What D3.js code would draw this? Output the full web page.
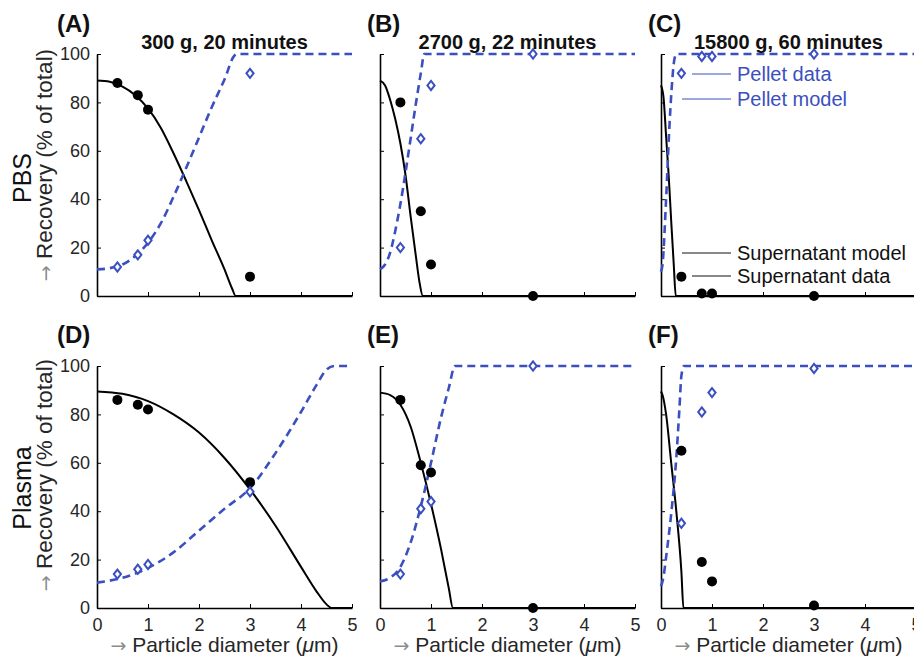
<!DOCTYPE html>
<html>
<head>
<meta charset="utf-8">
<script src="https://cdn.jsdelivr.net/npm/d3@7"></script>
<style>
  body { margin: 0; background: #fff; }
  svg { font-family: "Liberation Sans", Arial, Helvetica, sans-serif; }
</style>
</head>
<body>
<div class="chart"></div>
<script>
// Layout
var svgWidth = 914;
var svgHeight = 662;
var plotW = 255;
var plotH = 242;
var colLeft = [97, 380, 661];
var rowTop = [54, 366];

// Labels
var letters = ["(A)", "(B)", "(C)", "(D)", "(E)", "(F)"];
var titles = ["300 g, 20 minutes", "2700 g, 22 minutes", "15800 g, 60 minutes"];
var rowLabels = ["PBS", "Plasma"];
var xTicks = [0, 1, 2, 3, 4, 5];
var yTicks = [0, 20, 40, 60, 80, 100];

// Measured particle diameters (um)
var diameters = [0.4, 0.8, 1, 3];

// Supernatant / pellet data (% of total)
var supDataA = [88, 83, 77, 8];
var pelDataA = [12, 17, 23, 92];
var supDataB = [80, 35, 13, 0];
var pelDataB = [20, 65, 87, 100];
var supDataC = [8, 1, 1, 0];
var pelDataC = [92, 99, 99, 100];
var supDataD = [86, 84, 82, 52];
var pelDataD = [14, 16, 18, 48];
var supDataE = [86, 59, 56, 0];
var pelDataE = [14, 41, 44, 100];
var supDataF = [65, 19, 11, 1];
var pelDataF = [35, 81, 89, 99];

// Model curves: [diameter, recovery]
var supModelA = [[0, 89], [0.25, 88.5], [0.5, 86.5], [0.75, 83], [1, 77.5], [1.25, 69.5], [1.5, 59], [1.75, 47.5], [2, 35.5], [2.25, 23], [2.5, 11], [2.65, 3], [2.72, 0], [5, 0]];
var pelModelA = [[0, 11], [0.25, 11.5], [0.5, 13], [0.75, 16.5], [1, 22], [1.25, 30], [1.5, 41], [1.75, 53], [2, 65.5], [2.25, 78], [2.5, 89.5], [2.7, 99.5], [2.75, 100], [5, 100]];
var supModelB = [[0, 89], [0.1, 87], [0.2, 81], [0.3, 73], [0.4, 63], [0.5, 50], [0.6, 33], [0.7, 17], [0.78, 5], [0.84, 0], [5, 0]];
var pelModelB = [[0, 11], [0.1, 13], [0.2, 18], [0.3, 27], [0.4, 38], [0.5, 51], [0.6, 65], [0.7, 79], [0.8, 92], [0.87, 100], [5, 100]];
var supModelC = [[0, 87], [0.05, 82], [0.1, 66], [0.15, 50], [0.2, 31], [0.25, 13], [0.29, 0], [5, 0]];
var pelModelC = [[0, 10], [0.03, 13], [0.1, 40], [0.16, 68], [0.21, 86], [0.25, 96], [0.3, 100], [5, 100]];
var supModelD = [[0, 89.5], [0.5, 88.5], [1, 85.5], [1.5, 80], [2, 72.5], [2.5, 62], [3, 49], [3.5, 34], [4, 17], [4.3, 7], [4.5, 1.5], [4.6, 0], [5, 0]];
var pelModelD = [[0, 10.5], [0.5, 12.5], [1, 16.5], [1.5, 23], [2, 32], [2.5, 41], [3, 49.5], [3.5, 64], [4, 81], [4.3, 92], [4.5, 98.5], [4.65, 100], [5, 100]];
var supModelE = [[0, 89], [0.2, 88], [0.4, 84], [0.6, 75], [0.8, 60], [1, 43], [1.2, 24], [1.35, 8], [1.43, 0], [5, 0]];
var pelModelE = [[0, 11], [0.2, 12.5], [0.4, 17], [0.6, 27], [0.8, 42], [1, 60], [1.2, 79], [1.35, 91], [1.47, 100], [5, 100]];
var supModelF = [[0, 89.5], [0.03, 88], [0.1, 80], [0.2, 60], [0.3, 40], [0.4, 15], [0.44, 0], [5, 0]];
var pelModelF = [[0, 9], [0.05, 13], [0.1, 21], [0.2, 39], [0.3, 62], [0.36, 82], [0.4, 96], [0.45, 100], [5, 100]];

var blue = "#3b4fc0";

var panels = [
  { col: 0, row: 0, sup: supDataA, pel: pelDataA, supModel: supModelA, pelModel: pelModelA },
  { col: 1, row: 0, sup: supDataB, pel: pelDataB, supModel: supModelB, pelModel: pelModelB },
  { col: 2, row: 0, sup: supDataC, pel: pelDataC, supModel: supModelC, pelModel: pelModelC },
  { col: 0, row: 1, sup: supDataD, pel: pelDataD, supModel: supModelD, pelModel: pelModelD },
  { col: 1, row: 1, sup: supDataE, pel: pelDataE, supModel: supModelE, pelModel: pelModelE },
  { col: 2, row: 1, sup: supDataF, pel: pelDataF, supModel: supModelF, pelModel: pelModelF }
];

var svg = d3.select(".chart")
  .append("svg")
  .attr("width", svgWidth)
  .attr("height", svgHeight);

// MATLAB-like diamond marker
var diamond = {
  draw: function(ctx, size) {
    var r = Math.sqrt(size) / 2;
    ctx.moveTo(0, -r * 1.15);
    ctx.lineTo(r * 0.9, 0);
    ctx.lineTo(0, r * 1.15);
    ctx.lineTo(-r * 0.9, 0);
    ctx.closePath();
  }
};

var x = d3.scaleLinear().domain([0, 5]).range([0, plotW]);
var y = d3.scaleLinear().domain([0, 100]).range([plotH, 0]);

var line = d3.line()
  .x(d => x(d[0]))
  .y(d => y(d[1]))
  .curve(d3.curveMonotoneX);

panels.forEach(function(p, i) {
  var g = svg.append("g")
    .attr("transform", `translate(${colLeft[p.col]}, ${rowTop[p.row]})`);

  // axes
  var bottomAxis = d3.axisBottom(x)
    .tickValues(xTicks)
    .tickFormat(p.row === 0 ? "" : d3.format("d"))
    .tickSizeInner(-4)
    .tickSizeOuter(0)
    .tickPadding(10);

  var leftAxis = d3.axisLeft(y)
    .tickValues(yTicks)
    .tickFormat(p.col !== 0 ? "" : d3.format("d"))
    .tickSizeInner(-4)
    .tickSizeOuter(0)
    .tickPadding(7);

  var xg = g.append("g").attr("transform", `translate(0, ${plotH})`).call(bottomAxis);
  var yg = g.append("g").call(leftAxis);

  [xg, yg].forEach(function(ax) {
    ax.attr("font-family", null).attr("font-size", null);
    ax.select(".domain").attr("stroke", "#000").attr("stroke-width", 1.6);
    ax.selectAll(".tick line").attr("stroke", "#000").attr("stroke-width", 1);
    ax.selectAll(".tick text").style("font-size", "18px").attr("fill", "#262626");
  });

  // models
  g.append("path")
    .datum(p.supModel)
    .attr("d", line)
    .attr("fill", "none")
    .attr("stroke", "#000")
    .attr("stroke-width", 2);

  g.append("path")
    .datum(p.pelModel)
    .attr("d", line)
    .attr("fill", "none")
    .attr("stroke", blue)
    .attr("stroke-width", 2.6)
    .attr("stroke-dasharray", "8,5");

  // data
  g.selectAll(".sup")
    .data(p.sup)
    .enter()
    .append("circle")
    .attr("cx", (d, j) => x(diameters[j]))
    .attr("cy", d => y(d))
    .attr("r", 5)
    .attr("fill", "#000");

  g.selectAll(".pel")
    .data(p.pel)
    .enter()
    .append("path")
    .attr("transform", (d, j) => `translate(${x(diameters[j])}, ${y(d)})`)
    .attr("d", d3.symbol().type(diamond).size(64))
    .attr("fill", "#fff")
    .attr("stroke", blue)
    .attr("stroke-width", 2);

  // panel letter
  svg.append("text")
    .attr("x", [57, 367, 648][p.col])
    .attr("y", [32, 343][p.row])
    .style("font-size", "24px")
    .style("font-weight", "bold")
    .attr("fill", "#111")
    .text(letters[i]);

  // column titles
  if (p.row === 0) {
    svg.append("text")
      .attr("x", colLeft[p.col] + plotW / 2)
      .attr("y", 49)
      .attr("text-anchor", "middle")
      .style("font-size", "20px")
      .style("font-weight", "bold")
      .attr("fill", "#111")
      .text(titles[p.col]);
  }

  // x label
  if (p.row === 1) {
    var xl = svg.append("text")
      .attr("x", colLeft[p.col] + plotW / 2)
      .attr("y", 652)
      .attr("text-anchor", "middle")
      .style("font-size", "21px")
      .attr("fill", "#262626");
    xl.append("tspan").attr("fill", "#8c8c8c").style("font-family", "DejaVu Sans").style("font-size", "19px").text("\u2192");
    xl.append("tspan").text(" Particle diameter (");
    xl.append("tspan").style("font-style", "italic").text("\u03bc");
    xl.append("tspan").text("m)");
  }
});

// row labels
rowLabels.forEach(function(lab, r) {
  svg.append("text")
    .attr("transform", `translate(31, ${[178, 488][r]}) rotate(-90)`)
    .attr("text-anchor", "middle")
    .style("font-size", "25px")
    .attr("fill", "#111")
    .text(lab);

  var yl = svg.append("text")
    .attr("transform", `translate(52, ${[165, 475][r]}) rotate(-90)`)
    .attr("text-anchor", "middle")
    .style("font-size", "22.5px")
    .attr("fill", "#262626");
  yl.append("tspan").attr("fill", "#8c8c8c").style("font-family", "DejaVu Sans").style("font-size", "19px").text("\u2192");
  yl.append("tspan").text(" Recovery (% of total)");
});

// annotation legend in panel C
var legendItems = [
  { label: "Pellet data", y: 74, x1: 692, color: blue },
  { label: "Pellet model", y: 99, x1: 682, color: blue },
  { label: "Supernatant model", y: 253, x1: 682, color: "#111" },
  { label: "Supernatant data", y: 276, x1: 692, color: "#111" }
];

var legend = svg.append("g");
legend.selectAll("line")
  .data(legendItems)
  .enter()
  .append("line")
  .attr("x1", d => d.x1)
  .attr("x2", 731)
  .attr("y1", d => d.y)
  .attr("y2", d => d.y)
  .attr("stroke", d => d.color)
  .attr("stroke-width", 1);

legend.selectAll("text")
  .data(legendItems)
  .enter()
  .append("text")
  .attr("x", 737)
  .attr("y", d => d.y + 7)
  .style("font-size", "20px")
  .attr("fill", d => d.color)
  .text(d => d.label);
</script>
</body>
</html>
